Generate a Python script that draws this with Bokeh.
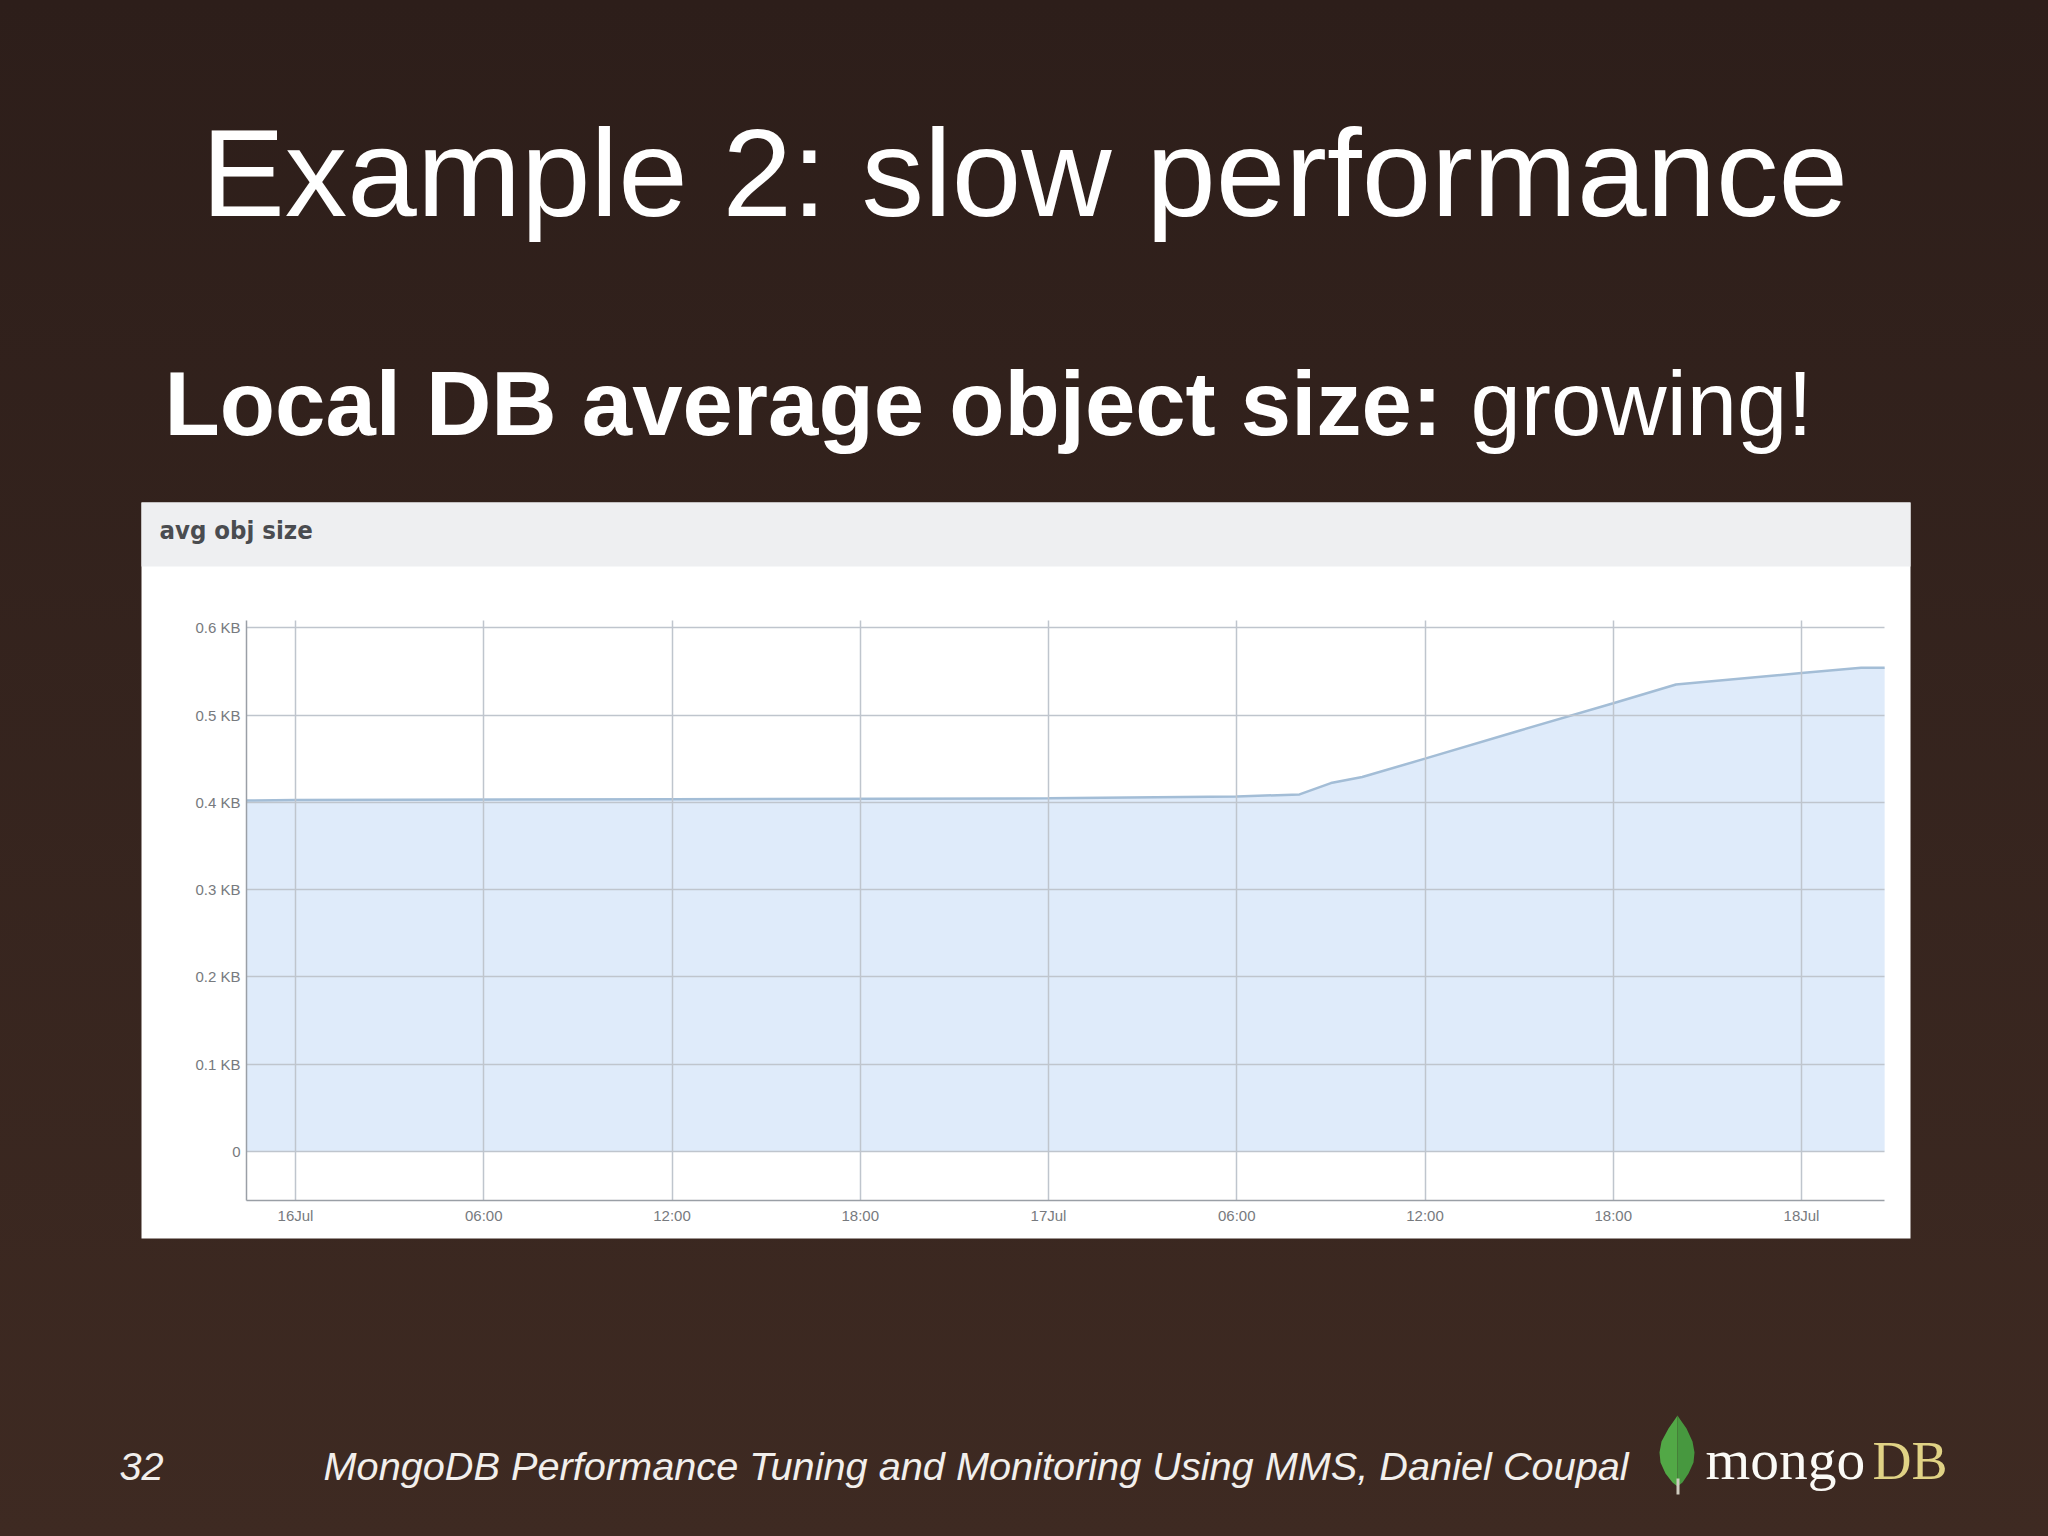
from bokeh.embed import file_html
from bokeh.resources import INLINE
from bokeh.plotting import figure
from bokeh.models import BoxAnnotation, Label, PolyAnnotation, FixedTicker, Range1d

# --- data ---
hours = [-1.56, 0, 12, 24, 30, 32, 33, 34, 36, 39, 42, 44, 48, 49.9, 50.65]
avg_obj_size_kb = [0.402, 0.4025, 0.4035, 0.4045, 0.4066, 0.409, 0.422, 0.429,
                   0.450, 0.482, 0.5135, 0.535, 0.548, 0.554, 0.554]
x_ticks = [0, 6, 12, 18, 24, 30, 36, 42, 48]
x_tick_labels = ["16Jul", "06:00", "12:00", "18:00", "17Jul", "06:00", "12:00", "18:00", "18Jul"]
y_ticks = [0, 0.1, 0.2, 0.3, 0.4, 0.5, 0.6]
y_tick_labels = ["0", "0.1 KB", "0.2 KB", "0.3 KB", "0.4 KB", "0.5 KB", "0.6 KB"]
baseline = [0] * len(hours)

slide_title = "Example 2: slow performance"
subtitle_bold = "Local DB average object size:"
subtitle_normal = "growing!"
chart_title = "avg obj size"
page_number = "32"
footer = "MongoDB Performance Tuning and Monitoring Using MMS, Daniel Coupal"

W, H = 2048, 1536
# calibration of the chart area on the slide
X0, PX_PER_HOUR = 295, 31.375
Y0, PX_PER_KB = 1151, 873
x_min, x_max = hours[0], hours[-1]
y_min, y_max = -0.0561, 0.608

p = figure(width=W, height=H, output_backend="svg", toolbar_location=None,
           x_range=Range1d(-X0 / PX_PER_HOUR, (W - X0) / PX_PER_HOUR),
           y_range=Range1d((Y0 - H) / PX_PER_KB, Y0 / PX_PER_KB),
           min_border=0)
p.background_fill_color = None
p.border_fill_color = None
p.outline_line_color = None

def box(l, r, t, b, color, level="image"):
    p.add_layout(BoxAnnotation(left=l, right=r, top=t, bottom=b,
                               left_units="canvas", right_units="canvas",
                               top_units="canvas", bottom_units="canvas",
                               fill_color=color, fill_alpha=1, line_alpha=0, level=level))

box(141, 1910, 502, 1238, "#ffffff")
box(141, 1910, 502, 566, "#eeeff1")

def text(x, y, s, size, color="#ffffff", font="Liberation Sans", style="normal"):
    # the label box sits a fixed share of the font size below the requested baseline
    p.add_layout(Label(x=x, y=H - y + 0.365 * size, x_units="screen", y_units="screen", text=s,
                       text_font=font, text_font_size=f"{size}px", text_color=color,
                       text_font_style=style, text_baseline="alphabetic"))

text(201, 218, slide_title, 125)
text(164, 436, subtitle_bold, 90.5, style="bold")
text(1470, 436, subtitle_normal, 90.5)
text(159, 539, chart_title, 25.5, color="#4a4c50", font="DejaVu Sans Condensed", style="bold")
text(119, 1480, page_number, 39.7, color="#f2efec", style="italic")
text(323, 1480, footer, 39.7, color="#f2efec", style="italic")
text(1705, 1480, "mongo", 57.5, color="#fbfaf6", font="Liberation Serif")
text(1872, 1480, "DB", 54, color="#e0d285", font="Liberation Serif")

# logo leaf
leaf_l_x = [1677, 1675, 1668, 1661, 1659, 1660, 1665, 1672, 1677]
leaf_r_x = [1677, 1679, 1686, 1692, 1694, 1693, 1688, 1682, 1677]
leaf_y = [1415, 1418, 1428, 1441, 1452, 1462, 1473, 1482, 1486]
for xs, col in ((leaf_l_x, "#52a846"), (leaf_r_x, "#47983f")):
    p.add_layout(PolyAnnotation(xs=xs, ys=leaf_y, xs_units="canvas", ys_units="canvas",
                                fill_color=col, fill_alpha=1, line_alpha=0, level="overlay"))
box(1676, 1679, 1478, 1494, "#cfccbf", level="overlay")

# chart
p.varea(x=hours, y1=baseline, y2=avg_obj_size_kb, fill_color="#bfd8f6", fill_alpha=0.5)
p.line(x=hours, y=avg_obj_size_kb, line_color="#a3bdd6", line_width=2.5)

p.xaxis.ticker = FixedTicker(ticks=x_ticks)
p.xaxis.major_label_overrides = dict(zip(x_ticks, x_tick_labels))
p.yaxis.ticker = FixedTicker(ticks=y_ticks)
p.yaxis.major_label_overrides = dict(zip(y_ticks, y_tick_labels))
p.xaxis.fixed_location = y_min
p.yaxis.fixed_location = x_min
p.xaxis.bounds = (x_min, x_max)
p.yaxis.bounds = (y_min, y_max)
for ax in (p.xaxis, p.yaxis):
    ax.major_tick_line_color = None
    ax.minor_tick_line_color = None
    ax.axis_line_color = "#9a9fa6"
    ax.axis_line_width = 1.5
    ax.major_label_text_font = "Liberation Sans"
    ax.major_label_text_font_size = "15px"
    ax.major_label_text_color = "#777a7e"
p.xaxis.major_label_standoff = 1
p.yaxis.major_label_standoff = 0
p.xgrid.ticker = FixedTicker(ticks=x_ticks)
p.ygrid.ticker = FixedTicker(ticks=y_ticks)
p.xgrid.cross_bounds = (y_min, y_max)
p.ygrid.cross_bounds = (x_min, x_max)
p.grid.grid_line_color = "#bfc5cd"
p.grid.grid_line_width = 1.5
p.grid.level = "glyph"

html = file_html(p, INLINE)
html = html.replace("</head>", "<style>html,body{min-height:100%;background:linear-gradient(#2d1e1a,#3e2a22) fixed;overflow:hidden}</style></head>", 1)
open("out.html", "w").write(html)
